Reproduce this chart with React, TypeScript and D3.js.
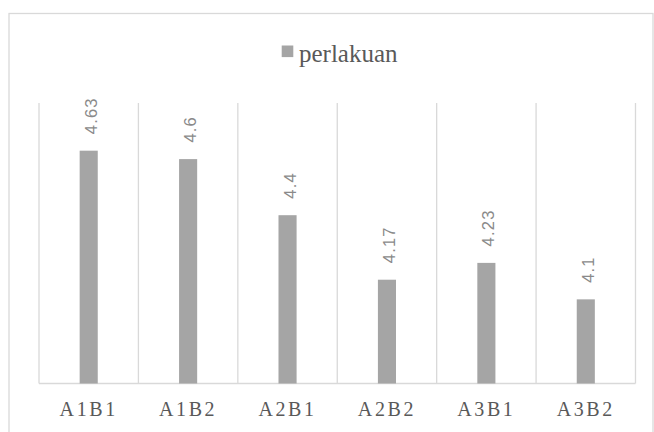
import React from "react";
import * as d3 from "d3";

const categories = ["A1B1", "A1B2", "A2B1", "A2B2", "A3B1", "A3B2"];
const values = [4.63, 4.6, 4.4, 4.17, 4.23, 4.1];
const labels = ["4.63", "4.6", "4.4", "4.17", "4.23", "4.1"];
const seriesName = "perlakuan";
const yDomain = [3.8, 4.8];

const W = 654;
const H = 432;
const plot = { left: 39, right: 635.5, top: 103, bottom: 383.5 };

export default function App() {
  const x = d3.scaleBand<string>().domain(categories).range([plot.left, plot.right]).padding(0);
  const y = d3.scaleLinear().domain(yDomain).range([plot.bottom, plot.top]);
  const bw = x.bandwidth() * 0.182;
  const bounds = [...categories.map((c) => x(c) as number), plot.right];

  return (
    <svg
      width={W}
      height={H}
      style={{ position: "absolute", left: 0, top: 0, display: "block", background: "#fff" }}
    >
      <rect x={9} y={13.5} width={644} height={430} fill="#fff" stroke="#d9d9d9" strokeWidth={1.3} />
      {bounds.map((bx, i) => (
        <line key={"g" + i} x1={bx} x2={bx} y1={plot.top} y2={plot.bottom} stroke="#d9d9d9" strokeWidth={1.3} />
      ))}
      <line x1={plot.left} x2={plot.right} y1={plot.bottom} y2={plot.bottom} stroke="#d9d9d9" strokeWidth={1.5} />
      {categories.map((c, i) => {
        const cx = (x(c) as number) + x.bandwidth() / 2;
        const top = y(values[i]);
        return (
          <g key={c}>
            <rect x={cx - bw / 2} y={top} width={bw} height={plot.bottom - top} fill="#a5a5a5" />
            <text
              transform={`translate(${cx + 8},${top - 16.5}) rotate(-90)`}
              fontFamily="Liberation Sans, Arial, sans-serif"
              fontSize={16.5}
              letterSpacing={1.2}
              fill="#8a8a8a"
            >
              {labels[i]}
            </text>
            <text
              x={cx}
              y={415.7}
              textAnchor="middle"
              fontFamily="Liberation Serif, serif"
              fontSize={20}
              letterSpacing={2.6}
              fill="#595959"
            >
              {c}
            </text>
          </g>
        );
      })}
      <rect x={281.7} y={45.5} width={11.6} height={11.6} fill="#a5a5a5" />
      <text x={299} y={61.5} fontFamily="Liberation Serif, serif" fontSize={25} fill="#595959">
        {seriesName}
      </text>
    </svg>
  );
}
